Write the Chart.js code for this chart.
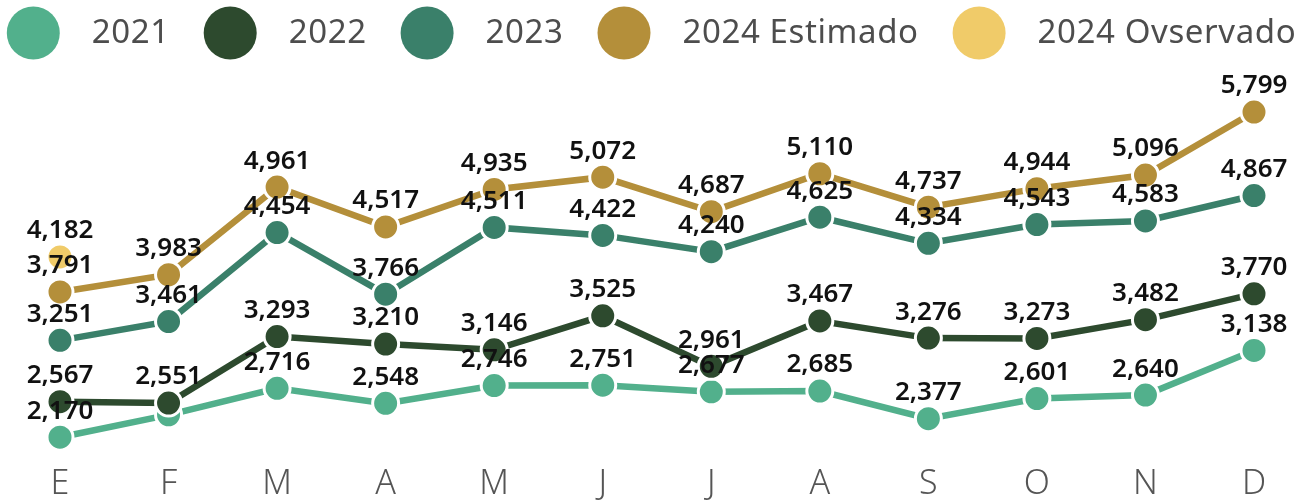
<!DOCTYPE html>
<html>
<head>
<meta charset="utf-8">
<script src="https://cdn.jsdelivr.net/npm/chart.js@4/dist/chart.umd.min.js"></script>
<style>
  html, body { margin: 0; padding: 0; background: #fff; }
  #wrap { width: 1303px; height: 503px; }
</style>
</head>
<body>
<div id="wrap"><canvas id="lineChart"></canvas></div>
<script>
// months
const meses = ["E", "F", "M", "A", "M", "J", "J", "A", "S", "O", "N", "D"];

// series
const serie2021 = [2170, 2420, 2716, 2548, 2746, 2751, 2677, 2685, 2377, 2601, 2640, 3138];
const serie2022 = [2567, 2551, 3293, 3210, 3146, 3525, 2961, 3467, 3276, 3273, 3482, 3770];
const serie2023 = [3251, 3461, 4454, 3766, 4511, 4422, 4240, 4625, 4334, 4543, 4583, 4867];
const serie2024Est = [3791, 3983, 4961, 4517, 4935, 5072, 4687, 5110, 4737, 4944, 5096, 5799];
const serie2024Obs = [4182, null, null, null, null, null, null, null, null, null, null, null];

const nombres = ["2021", "2022", "2023", "2024 Estimado", "2024 Ovservado"];
const colores = ["#52b08c", "#2d4a2e", "#3a806a", "#b48f3a", "#f0cb69"];

const FONT = "'Noto Sans', sans-serif";

function makeDataset(i, data) {
  return {
    label: nombres[i],
    data: data,
    borderColor: colores[i],
    backgroundColor: colores[i],
    borderWidth: 6.5,
    pointRadius: 13,
    pointHoverRadius: 13,
    pointBorderColor: "#ffffff",
    pointBorderWidth: 3,
    pointBackgroundColor: colores[i],
    tension: 0,
    spanGaps: false,
    order: 5 - i, // later series drawn on top
  };
}

// custom legend on top of the canvas
const legendPlugin = {
  id: "topLegend",
  afterDraw(chart) {
    const ctx = chart.ctx;
    ctx.save();
    ctx.font = "33px " + FONT;
    ctx.letterSpacing = "0.6px";
    const r = 26.5, gapText = 32, gapItem = 34;
    let total = 0;
    const widths = nombres.map((n) => ctx.measureText(n).width);
    widths.forEach((w) => (total += 2 * r + gapText + w));
    total += gapItem * (nombres.length - 1);
    let x = (chart.width - total) / 2;
    const cy = 33;
    nombres.forEach((n, i) => {
      ctx.beginPath();
      ctx.arc(x + r, cy, r, 0, Math.PI * 2);
      ctx.fillStyle = colores[i];
      ctx.fill();
      x += 2 * r + gapText;
      ctx.fillStyle = "#4d4d4d";
      ctx.textBaseline = "middle";
      ctx.textAlign = "left";
      ctx.fillText(n, x, cy + 1);
      x += widths[i] + gapItem;
    });
    ctx.restore();
  },
};

// value labels above points, hides the ones that collide
const valueLabels = {
  id: "valueLabels",
  afterDatasetsDraw(chart) {
    const ctx = chart.ctx;
    ctx.save();
    ctx.font = "600 26px " + FONT;
    ctx.fillStyle = "#111111";
    ctx.textAlign = "center";
    ctx.textBaseline = "middle";
    const placed = [];
    for (let d = chart.data.datasets.length - 1; d >= 0; d--) {
      const meta = chart.getDatasetMeta(d);
      const data = chart.data.datasets[d].data;
      meta.data.forEach((pt, i) => {
        if (data[i] === null) return;
        const txt = data[i].toLocaleString("en-US");
        const w = ctx.measureText(txt).width;
        const box = { x1: pt.x - w / 2, x2: pt.x + w / 2, y1: pt.y - 35, y2: pt.y - 17 };
        const hit = placed.some(
          (b) => box.x1 < b.x2 && box.x2 > b.x1 && box.y1 < b.y2 && box.y2 > b.y1
        );
        if (hit) return;
        placed.push(box);
        ctx.fillText(txt, pt.x, pt.y - 26);
      });
    }
    ctx.restore();
  },
};

const ctx = document.getElementById("lineChart").getContext("2d");
new Chart(ctx, {
  type: "line",
  data: {
    labels: meses,
    datasets: [
      makeDataset(0, serie2021),
      makeDataset(1, serie2022),
      makeDataset(2, serie2023),
      makeDataset(3, serie2024Est),
      makeDataset(4, serie2024Obs),
    ],
  },
  options: {
    responsive: true,
    maintainAspectRatio: false,
    animation: false,
    layout: { padding: { top: 94, left: 60, right: 49, bottom: 0 } },
    plugins: {
      legend: { display: false },
      tooltip: { enabled: false },
    },
    scales: {
      x: {
        offset: false,
        grid: { display: false, drawTicks: false },
        border: { display: false },
        ticks: {
          color: "#555555",
          font: { family: FONT, size: 34, weight: "300", lineHeight: 1 },
          padding: 2,
          maxRotation: 0,
          autoSkip: false,
        },
      },
      y: {
        display: false,
        min: 1860,
        max: 6000,
      },
    },
  },
  plugins: [legendPlugin, valueLabels],
});
</script>
</body>
</html>
